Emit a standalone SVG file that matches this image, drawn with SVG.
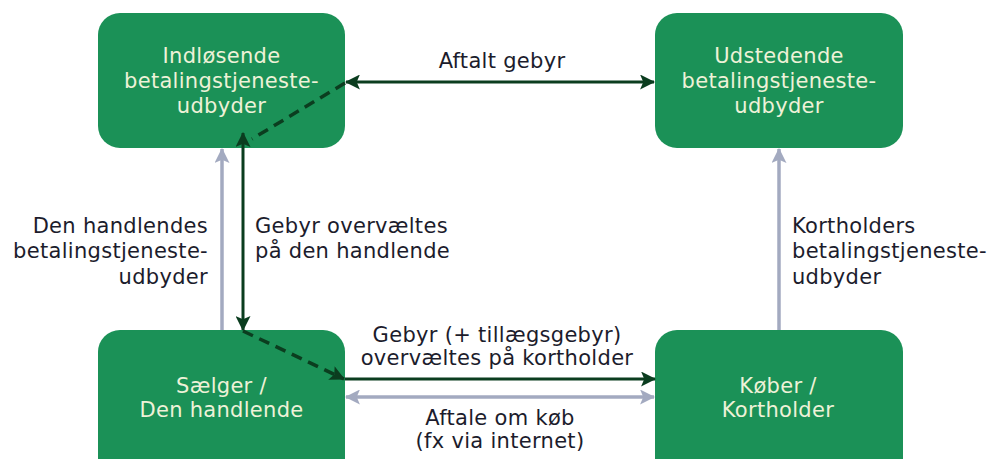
<svg xmlns="http://www.w3.org/2000/svg" width="990" height="459" viewBox="0 0 990 459">
<style>
.box{fill:#1b9157;}
.bt{font-family:"DejaVu Sans","Verdana",sans-serif;font-size:21px;letter-spacing:0.3px;fill:#eef2d8;text-anchor:middle;}
.lb{font-family:"DejaVu Sans","Verdana",sans-serif;font-size:21px;letter-spacing:0.3px;fill:#1c1c2c;}
.dark{stroke:#0b3d1f;stroke-width:3;fill:none;}
.grey{stroke:#a3aac0;stroke-width:3.5;fill:none;}
.dash{stroke:#0b3d1f;stroke-width:3.5;fill:none;stroke-dasharray:11 7;}
</style>
<defs>
<marker id="ad" viewBox="0 0 14 14" markerWidth="15" markerHeight="15" refX="13" refY="7" orient="auto-start-reverse" markerUnits="userSpaceOnUse">
<path d="M0,0 L14,7 L0,14 L3,7 Z" fill="#0b3d1f"/>
</marker>
<marker id="ag" viewBox="0 0 14 14" markerWidth="15" markerHeight="15" refX="13" refY="7" orient="auto-start-reverse" markerUnits="userSpaceOnUse">
<path d="M0,0 L14,7 L0,14 L3,7 Z" fill="#a3aac0"/>
</marker>
</defs>
<rect width="990" height="459" fill="#ffffff"/>
<g id="node-indloesende">
<rect class="box" x="98" y="13" width="247" height="135" rx="22"/>
<text class="bt" x="221.5" y="63">Indløsende</text>
<text class="bt" x="221.5" y="88">betalingstjeneste-</text>
<text class="bt" x="221.5" y="113">udbyder</text>
</g>
<g id="node-udstedende">
<rect class="box" x="655" y="13" width="248" height="135" rx="22"/>
<text class="bt" x="779" y="63">Udstedende</text>
<text class="bt" x="779" y="88">betalingstjeneste-</text>
<text class="bt" x="779" y="113">udbyder</text>
</g>
<g id="node-saelger">
<rect class="box" x="98" y="330" width="247" height="150" rx="22"/>
<text class="bt" x="221.5" y="393">Sælger /</text>
<text class="bt" x="221.5" y="417">Den handlende</text>
</g>
<g id="node-koeber">
<rect class="box" x="655" y="330" width="248" height="150" rx="22"/>
<text class="bt" x="778" y="393">Køber /</text>
<text class="bt" x="778" y="417">Kortholder</text>
</g>
<g id="connectors">
<line class="dark" x1="346" y1="82" x2="654" y2="82" marker-start="url(#ad)" marker-end="url(#ad)"/>
<line class="dash" x1="345" y1="83" x2="252" y2="139"/>
<line class="grey" x1="222" y1="330" x2="222" y2="149" marker-end="url(#ag)"/>
<line class="dark" x1="243" y1="133" x2="243" y2="330" marker-start="url(#ad)" marker-end="url(#ad)"/>
<line class="dash" x1="243" y1="331" x2="344" y2="379" marker-end="url(#ad)"/>
<line class="dark" x1="345" y1="379" x2="655" y2="379" marker-end="url(#ad)"/>
<line class="grey" x1="346" y1="397" x2="654" y2="397" marker-start="url(#ag)" marker-end="url(#ag)"/>
<line class="grey" x1="779" y1="330" x2="779" y2="149" marker-end="url(#ag)"/>
</g>
<g id="labels">
<text class="lb" x="502" y="68" text-anchor="middle">Aftalt gebyr</text>
<text class="lb" x="208" y="233" text-anchor="end">Den handlendes</text>
<text class="lb" x="208" y="258" text-anchor="end">betalingstjeneste-</text>
<text class="lb" x="208" y="284" text-anchor="end">udbyder</text>
<text class="lb" x="255" y="233">Gebyr overvæltes</text>
<text class="lb" x="255" y="258">på den handlende</text>
<text class="lb" x="792" y="233">Kortholders</text>
<text class="lb" x="792" y="258">betalingstjeneste-</text>
<text class="lb" x="792" y="284">udbyder</text>
<text class="lb" x="497" y="342" text-anchor="middle">Gebyr (+ tillægsgebyr)</text>
<text class="lb" x="497" y="365" text-anchor="middle">overvæltes på kortholder</text>
<text class="lb" x="500" y="425" text-anchor="middle">Aftale om køb</text>
<text class="lb" x="500" y="448" text-anchor="middle">(fx via internet)</text>
</g>
</svg>
